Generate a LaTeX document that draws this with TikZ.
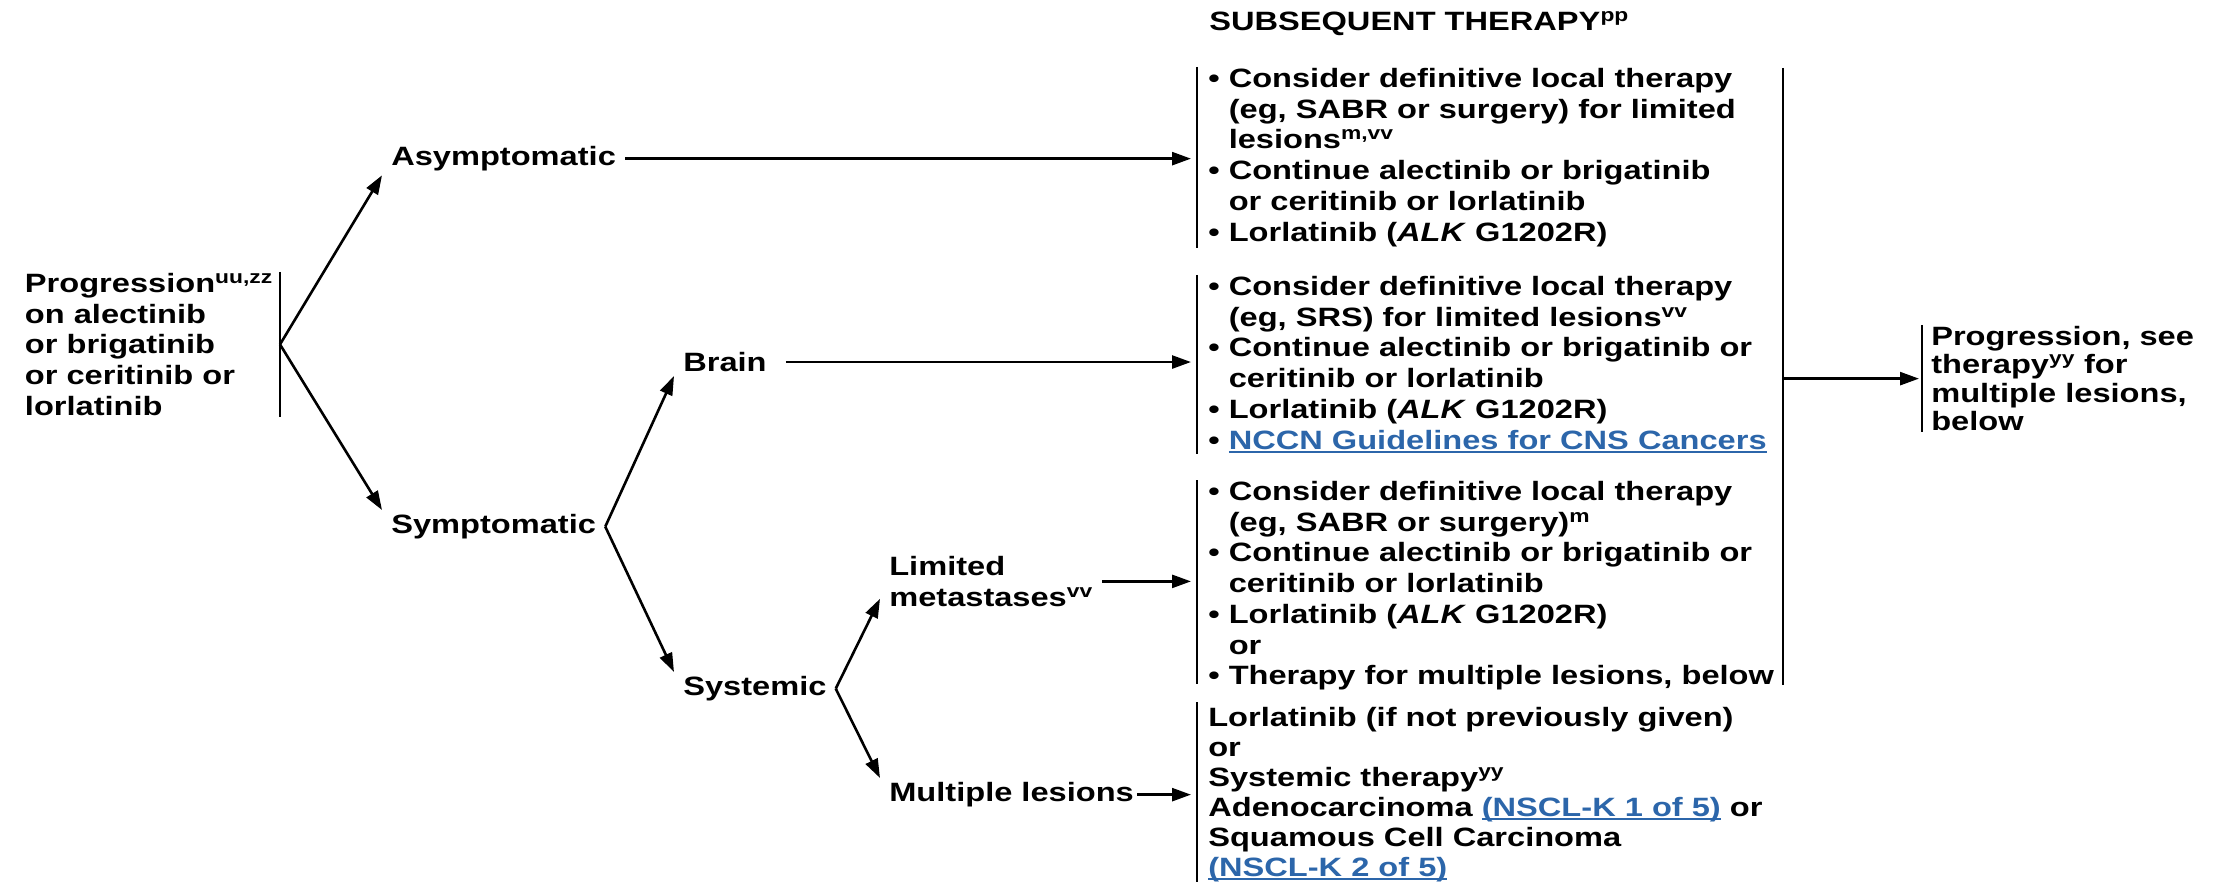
\documentclass[tikz,border=0pt]{standalone}
\usepackage{fontspec}
\setmainfont{Liberation Sans}[FakeStretch=1.23]
\usetikzlibrary{positioning,arrows.meta}
\definecolor{linkblue}{RGB}{44,102,170}
\newcommand{\itm}{\textbullet\ }
\newcommand{\cont}{\hphantom{\textbullet\ }}
\newcommand{\lnk}[1]{{\color{linkblue}\setbox0\hbox{#1}\rlap{\rule[-3.5pt]{\wd0}{1.8pt}}\box0}}

\begin{document}
\begin{tikzpicture}[x=1pt,y=-1pt,line width=2.6pt,
  every node/.style={font=\fontsize{26.5}{30.7}\selectfont\bfseries},
  lbl/.style={anchor=base west,inner xsep=8pt,inner ysep=3pt},
  tbox/.style={anchor=north west,align=left,inner xsep=10pt,inner ysep=0pt},
  arr/.style={-{Triangle[length=19pt,width=13pt]}}]
\useasboundingbox (0,0) rectangle (2223,882);

\node[anchor=base west,inner sep=0pt] (title) at (1208,30.5) {SUBSEQUENT THERAPY\textsuperscript{pp}};

% decision tree
\node[tbox,anchor=north east,inner xsep=6pt] (prog) at (280,272)
  {Progression\textsuperscript{uu,zz}\\on alectinib\\or brigatinib\\or ceritinib or\\lorlatinib};
\node[lbl] (asym) at (382,165.5) {Asymptomatic};
\node[lbl] (sympt) at (382,533.5) {Symptomatic};
\node[lbl] (brain) at (674,371.5) {Brain};
\node[lbl] (systemic) at (674,695.5) {Systemic};
\node[tbox,inner xsep=8pt,inner ysep=3pt] (limited) at (880,552) {Limited\\metastases\textsuperscript{vv}};
\node[lbl] (multiple) at (880,801.5) {Multiple lesions};

% therapy boxes
\node[tbox] (box1) at (1197,67) {\itm Consider definitive local therapy\\
  \cont(eg, SABR or surgery) for limited\\
  \cont lesions\textsuperscript{m,vv}\\
  \itm Continue alectinib or brigatinib\\
  \cont or ceritinib or lorlatinib\\
  \itm Lorlatinib (\textit{ALK} G1202R)};
\node[tbox] (box2) at (1197,275) {\itm Consider definitive local therapy\\
  \cont(eg, SRS) for limited lesions\textsuperscript{vv}\\
  \itm Continue alectinib or brigatinib or\\
  \cont ceritinib or lorlatinib\\
  \itm Lorlatinib (\textit{ALK} G1202R)\\
  \itm \lnk{NCCN Guidelines for CNS Cancers}};
\node[tbox] (box3) at (1197,480) {\itm Consider definitive local therapy\\
  \cont(eg, SABR or surgery)\textsuperscript{m}\\
  \itm Continue alectinib or brigatinib or\\
  \cont ceritinib or lorlatinib\\
  \itm Lorlatinib (\textit{ALK} G1202R)\\
  \cont or\\
  \itm Therapy for multiple lesions, below};
\node[tbox,font=\fontsize{26.5}{30}\selectfont\bfseries] (box4) at (1197,706) {Lorlatinib (if not previously given)\\
  or\\
  Systemic therapy\textsuperscript{yy}\\
  Adenocarcinoma \lnk{(NSCL-K 1 of 5)} or\\
  Squamous Cell Carcinoma\\
  \lnk{(NSCL-K 2 of 5)}};
\node[tbox,inner xsep=8pt,font=\fontsize{26.5}{28.4}\selectfont\bfseries] (final) at (1922,325)
  {Progression, see\\therapy\textsuperscript{yy} for\\multiple lesions,\\below};

% brackets
\draw (prog.north east) -- (prog.south east);
\draw (box1.north west) -- (box1.south west);
\draw (box2.north west) -- (box2.south west);
\draw[shorten >=8pt] (box3.north west) -- (box3.south west);
\draw ([yshift=4pt]box4.north west) -- (box4.south west);
\draw (final.north west) -- (final.south west);
\coordinate (rtop) at (1783,68);
\coordinate (rbot) at (1783,685);
\draw (rtop) -- (rbot);

% connectors
\draw[arr] (prog.east) -- (asym.south west);
\draw[arr] (prog.east) -- (sympt.north west);
\draw[arr] (sympt.east) -- (brain.south west);
\draw[arr] (sympt.east) -- (systemic.north west);
\draw[arr] (systemic.east) -- ([yshift=12pt]limited.south west);
\draw[arr] (systemic.east) -- (multiple.north west);
\draw[arr,shorten >=6pt] (asym.east) -- (asym.east -| box1.west);
\draw[arr,shorten >=6pt,shorten <=10pt] (brain.east) -- (brain.east -| box2.west);
\draw[arr,shorten >=6pt] (limited.east) -- (limited.east -| box3.west);
\draw[arr,shorten >=6pt,shorten <=-6pt] (multiple.east) -- (multiple.east -| box4.west);
\draw[arr,shorten >=3pt] (rtop |- final.west) -- (final.west);
\end{tikzpicture}
\end{document}
